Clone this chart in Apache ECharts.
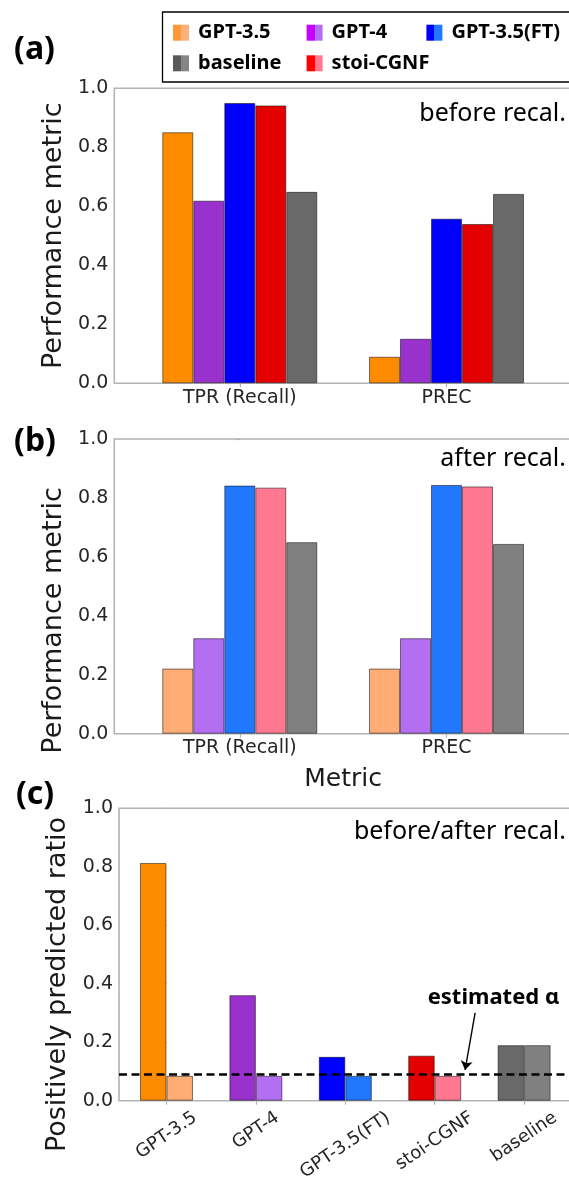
<!DOCTYPE html>
<html>
<head>
<meta charset="utf-8">
<script src="https://cdn.jsdelivr.net/npm/echarts@6/dist/echarts.min.js"></script>
<style>
  html, body { margin: 0; padding: 0; background: #fff; }
  #chart { width: 569px; height: 1183px; }
</style>
</head>
<body>
<div id="chart"></div>
<script>
// ---- data ----
const models = ['GPT-3.5', 'GPT-4', 'GPT-3.5(FT)', 'stoi-CGNF', 'baseline']
const metrics = ['TPR (Recall)', 'PREC']

// (a) before recalibration
const beforeTPR = [0.851, 0.619, 0.950, 0.942, 0.649]
const beforePREC = [0.090, 0.151, 0.558, 0.540, 0.642]
// (b) after recalibration
const afterTPR = [0.221, 0.324, 0.842, 0.835, 0.650]
const afterPREC = [0.221, 0.324, 0.844, 0.839, 0.644]
// (c) positively predicted ratio
const ratioBefore = [0.813, 0.361, 0.150, 0.154, 0.190]
const ratioAfter = [0.085, 0.085, 0.085, 0.085, 0.190]
const alphaEst = 0.088
// arrow of the "estimated α" note, in data units of panel (c)
const alphaArrow = [[3.60, 0.300], [3.488, 0.105]]

// ---- colours ----
const darkColors = ['#FF8C00', '#9932CC', '#0000FF', '#E30000', '#696969']
const lightColors = ['#FFAD74', '#B46EF2', '#2277FF', '#FF7890', '#808080']
const legendDark = ['#FF9833', '#C800FF', '#0000FF', '#FF0000', '#5A5A5A']
const legendLight = ['#FFB07A', '#B070F0', '#2277FF', '#FF7890', '#858585']

const FONT = '"DejaVu Sans"'
const SPINE = '#b3b3b3'
const EDGE = 'rgba(0,0,0,0.5)'

// 图例位置 (两行)
const legendPos = [[173, 22.7], [306.6, 22.7], [426.4, 22.7], [306.6, 53.3], [173, 53.3]]

const chart = echarts.init(document.getElementById('chart'))

function twoTone(i) {
  return new echarts.graphic.LinearGradient(0, 0, 1, 0, [
    { offset: 0, color: legendDark[i] },
    { offset: 0.5, color: legendDark[i] },
    { offset: 0.5, color: legendLight[i] },
    { offset: 1, color: legendLight[i] }
  ])
}

function yAxisOf(gridIndex, name, shift) {
  return {
    type: 'value',
    gridIndex: gridIndex,
    min: 0,
    max: 1,
    interval: 0.2,
    name: name,
    nameLocation: 'middle',
    nameGap: 45,
    nameTextStyle: {
      fontFamily: FONT,
      fontSize: 27,
      color: '#1a1a1a',
      padding: [0, shift * 2, 0, 0]
    },
    axisLine: { show: false },
    axisTick: { show: true, length: 4, lineStyle: { color: SPINE, width: 1.2 } },
    splitLine: { show: false },
    axisLabel: {
      fontFamily: FONT,
      fontSize: 19,
      color: '#262626',
      margin: 6,
      formatter: v => v.toFixed(1)
    }
  }
}

function metricAxis(gridIndex, name) {
  return {
    type: 'value',
    gridIndex: gridIndex,
    min: -0.607,
    max: 1.607,
    name: name,
    nameLocation: 'middle',
    nameGap: 33,
    nameTextStyle: { fontFamily: FONT, fontSize: 25, color: '#1a1a1a' },
    axisLine: { show: false },
    splitLine: { show: false },
    axisTick: {
      show: true,
      customValues: [0, 1],
      length: 4,
      lineStyle: { color: SPINE, width: 1.2 }
    },
    axisLabel: {
      customValues: [0, 1],
      fontFamily: FONT,
      fontSize: 19,
      color: '#262626',
      margin: 5,
      formatter: v => metrics[Math.round(v)]
    }
  }
}

const series = []
models.forEach((m, i) => {
  series.push({
    type: 'bar',
    name: m,
    xAxisIndex: 0,
    yAxisIndex: 0,
    barWidth: 31,
    barGap: '0%',
    data: [[0, beforeTPR[i]], [1, beforePREC[i]]],
    itemStyle: { color: darkColors[i], borderColor: EDGE, borderWidth: 1 }
  })
})
models.forEach((m, i) => {
  series.push({
    type: 'bar',
    name: m,
    xAxisIndex: 1,
    yAxisIndex: 1,
    barWidth: 31,
    barGap: '0%',
    data: [[0, afterTPR[i]], [1, afterPREC[i]]],
    itemStyle: { color: lightColors[i], borderColor: EDGE, borderWidth: 1 }
  })
})
series.push({
  type: 'bar',
  name: 'before',
  xAxisIndex: 2,
  yAxisIndex: 2,
  barWidth: 26.5,
  barGap: '0%',
  data: ratioBefore.map((v, i) => ({ value: [i, v], itemStyle: { color: darkColors[i] } })),
  itemStyle: { borderColor: EDGE, borderWidth: 1 },
  markLine: {
    silent: true,
    symbol: ['none', 'arrow'],
    symbolSize: 9,
    label: { show: false },
    lineStyle: { color: '#000', width: 1.4, type: 'solid' },
    data: [[{ coord: alphaArrow[0] }, { coord: alphaArrow[1] }]]
  }
})
series.push({
  type: 'bar',
  name: 'after',
  xAxisIndex: 2,
  yAxisIndex: 2,
  barWidth: 26.5,
  barGap: '0%',
  data: ratioAfter.map((v, i) => ({ value: [i, v], itemStyle: { color: lightColors[i] } })),
  itemStyle: { borderColor: EDGE, borderWidth: 1 },
  markLine: {
    silent: true,
    symbol: 'none',
    label: { show: false },
    lineStyle: { color: '#000', width: 2.6, type: [8, 4.5] },
    data: [{ yAxis: alphaEst }]
  }
})

const graphics = [
  {
    type: 'rect',
    shape: { x: 162.5, y: 12, width: 420, height: 70 },
    style: { fill: 'none', stroke: '#000', lineWidth: 1.3 }
  },
  { type: 'text', x: 34.5, y: 50, style: { text: '(a)', font: 'bold 32px "Noto Sans"', fill: '#000', align: 'center', verticalAlign: 'middle' } },
  { type: 'text', x: 35, y: 442, style: { text: '(b)', font: 'bold 32px "Noto Sans"', fill: '#000', align: 'center', verticalAlign: 'middle' } },
  { type: 'text', x: 35, y: 795, style: { text: '(c)', font: 'bold 32px "Noto Sans"', fill: '#000', align: 'center', verticalAlign: 'middle' } },
  { type: 'text', x: 566, y: 113.7, style: { text: 'before recal.', font: '25px "Noto Sans"', fill: '#000', align: 'right', verticalAlign: 'middle' } },
  { type: 'text', x: 566, y: 459, style: { text: 'after recal.', font: '25px "Noto Sans"', fill: '#000', align: 'right', verticalAlign: 'middle' } },
  { type: 'text', x: 566, y: 832, style: { text: 'before/after recal.', font: '25px "Noto Sans"', fill: '#000', align: 'right', verticalAlign: 'middle' } },
  { type: 'text', x: 493.5, y: 998, style: { text: 'estimated α', font: 'bold 22px "Noto Sans"', fill: '#000', align: 'center', verticalAlign: 'middle' } }
]

const option = {
  animation: false,
  backgroundColor: '#fff',
  legend: models.map((m, i) => ({
    left: legendPos[i][0],
    top: legendPos[i][1],
    padding: 0,
    itemWidth: 16,
    itemHeight: 16,
    icon: 'rect',
    selectedMode: false,
    textStyle: {
      fontFamily: '"Noto Sans"',
      fontWeight: 'bold',
      fontSize: 20,
      color: '#000',
      padding: [0, 0, 0, 4]
    },
    data: [{ name: m, itemStyle: { color: twoTone(i), borderWidth: 0 } }]
  })),
  grid: [
    { left: 114.3, top: 88.3, width: 457.7, height: 295 },
    { left: 114.3, top: 439, width: 457.7, height: 294.7 },
    { left: 119, top: 808.3, width: 452.6, height: 292.4 }
  ].map(g => Object.assign(g, {
    show: true,
    borderColor: SPINE,
    borderWidth: 1.6,
    outerBoundsMode: 'none',
    containLabel: false
  })),
  xAxis: [
    metricAxis(0, ''),
    metricAxis(1, 'Metric'),
    {
      type: 'value',
      gridIndex: 2,
      min: -0.531,
      max: 4.531,
      axisLine: { show: false },
      splitLine: { show: false },
      axisTick: {
        show: true,
        customValues: [0, 1, 2, 3, 4],
        length: 4,
        lineStyle: { color: SPINE, width: 1.2 }
      },
      axisLabel: { show: false }
    }
  ],
  yAxis: [
    yAxisOf(0, 'Performance metric', 0),
    yAxisOf(1, 'Performance metric', 34),
    yAxisOf(2, 'Positively predicted ratio', 30)
  ],
  graphic: graphics,
  series: series
}

chart.setOption(option)

// (c) 的斜排模型名: 以刻度为中心, 顶边大致齐平 (按坐标轴换算位置)
const ROT = 34 * Math.PI / 180
const measureCtx = document.createElement('canvas').getContext('2d')
measureCtx.font = '18px ' + FONT
const modelLabels = models.map((m, i) => {
  const p = chart.convertToPixel({ xAxisIndex: 2, yAxisIndex: 2 }, [i, 0])
  const w = measureCtx.measureText(m).width
  const d = 10 + (w * Math.sin(ROT) + 13 * Math.cos(ROT)) / 2
  return {
    type: 'text',
    x: p[0],
    y: p[1] + d,
    rotation: ROT,
    style: {
      text: m,
      font: '18px ' + FONT,
      fill: '#262626',
      align: 'center',
      verticalAlign: 'middle'
    }
  }
})
chart.setOption({ graphic: graphics.concat(modelLabels) })
</script>
</body>
</html>
